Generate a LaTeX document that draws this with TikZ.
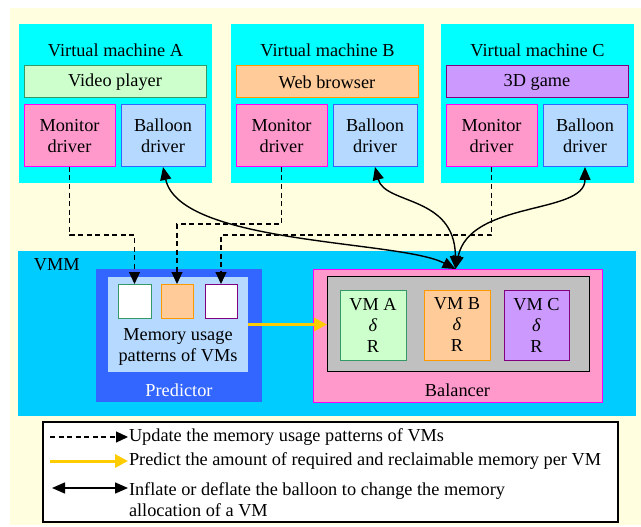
\documentclass[tikz,border=0pt]{standalone}
\usepackage{fontspec}
\setmainfont{Liberation Serif}
\usetikzlibrary{arrows.meta}

\definecolor{paper}{RGB}{255,255,224}
\definecolor{vmcyan}{RGB}{0,255,255}
\definecolor{vmmblue}{RGB}{0,204,255}
\definecolor{predblue}{RGB}{51,102,255}
\definecolor{paleblue}{RGB}{181,217,255}
\definecolor{palegreen}{RGB}{204,255,204}
\definecolor{greenedge}{RGB}{51,153,102}
\definecolor{paleorange}{RGB}{255,204,153}
\definecolor{orangeedge}{RGB}{255,153,0}
\definecolor{palepurple}{RGB}{204,153,255}
\definecolor{purpleedge}{RGB}{128,0,128}
\definecolor{monpink}{RGB}{255,153,204}
\definecolor{monedge}{RGB}{255,0,255}
\definecolor{balledge}{RGB}{51,102,255}
\definecolor{balgray}{RGB}{192,192,192}
\definecolor{gold}{RGB}{255,204,0}

\tikzset{
  area/.style={rectangle, inner sep=0pt, outer sep=0pt, draw=none},
  box/.style={rectangle, inner sep=0pt, outer sep=0pt, line width=1pt, align=center,
    font=\rmfamily\fontsize{18.3}{21}\selectfont},
  txt/.style={inner sep=0pt, outer sep=0pt, align=center,
    font=\rmfamily\fontsize{18.3}{21}\selectfont},
  update/.style={draw=black, line width=1.2pt, dash pattern=on 5pt off 3.5pt,
    -{Triangle[length=12pt,width=11pt]}},
  predict/.style={draw=gold, line width=3pt, -{Triangle[length=13pt,width=13pt]}},
  inflate/.style={draw=black, line width=1.4pt,
    {Triangle[length=13pt,width=11pt]}-{Triangle[length=13pt,width=11pt]}},
}

\begin{document}
\begin{tikzpicture}[x=1pt, y={(0pt,-1pt)}]
  \useasboundingbox (0,0) rectangle (641,527);
  \fill[white] (0,0) rectangle (641,527);
  \fill[paper] (10,8) rectangle (641,525);

  % three virtual machines
  \foreach \dx/\id/\app/\fillc/\edgec in {
      0/A/Video player/palegreen/greenedge,
      212/B/Web browser/paleorange/orangeedge,
      422/C/3D game/palepurple/purpleedge} {
    \node[area, fill=vmcyan, minimum width=193pt, minimum height=159pt]
      (vm\id) at (115.5+\dx,103.5) {};
    \node[txt] (title\id) at (115.5+\dx,50) {Virtual machine \id};
    \node[box, fill=\fillc, draw=\edgec, minimum width=182pt, minimum height=32pt]
      (app\id) at (115+\dx,82) {\app};
    \node[box, fill=monpink, draw=monedge, minimum width=91pt, minimum height=62pt]
      (mon\id) at (69.5+\dx,136) {Monitor\\driver};
    \node[box, fill=paleblue, draw=balledge, minimum width=84pt, minimum height=62pt]
      (bal\id) at (163+\dx,136) {Balloon\\driver};
  }

  % hypervisor
  \node[area, fill=vmmblue, minimum width=618pt, minimum height=165pt]
    (vmm) at (327,333.5) {};
  \node[txt, anchor=west] (vmmlabel) at (34,265) {VMM};

  % predictor
  \node[area, fill=predblue, minimum width=166pt, minimum height=133pt]
    (pred) at (179,335.5) {};
  \node[area, fill=paleblue, minimum width=140pt, minimum height=95pt]
    (patterns) at (178,324.5) {};
  \node[box, fill=white, draw=greenedge, minimum width=33pt, minimum height=34pt]
    (p1) at (134.5,301) {};
  \node[box, fill=paleorange, draw=orangeedge, minimum width=32pt, minimum height=34pt]
    (p2) at (177,301) {};
  \node[box, fill=white, draw=purpleedge, minimum width=32pt, minimum height=34pt]
    (p3) at (221,301) {};
  \node[txt] (patternstext) at (178,347) {Memory usage\\patterns of VMs};
  \node[txt, text=white] (predlabel) at (179,390) {Predictor};

  % balancer
  \node[box, fill=monpink, draw=monedge, minimum width=289pt, minimum height=133pt]
    (balancer) at (457.5,335.5) {};
  \node[box, fill=balgray, draw=black, minimum width=262pt, minimum height=95pt]
    (table) at (458,323.5) {};
  \node[box, fill=palegreen, draw=greenedge, minimum width=66pt, minimum height=70pt]
    (ta) at (373,325) {VM A\\\textit{δ}\\R};
  \node[box, fill=paleorange, draw=orangeedge, minimum width=66pt, minimum height=70pt]
    (tb) at (457,325) {VM B\\\textit{δ}\\R};
  \node[box, fill=palepurple, draw=purpleedge, minimum width=65pt, minimum height=70pt]
    (tc) at (536.5,325) {VM C\\\textit{δ}\\R};
  \node[txt] (ballabel) at (457.5,390) {Balancer};

  % monitor drivers feed the usage patterns
  \draw[update] (monA.south) -- ++(0,68) -| (p1.north);
  \draw[update] (monB.south) -- ++(0,57) -| (p2.north);
  \draw[update] (monC.south) -- ++(0,68) -| (p3.north);

  % predictor feeds the balancer
  \draw[predict] (patterns.east) -- (patterns.east -| table.west);

  % balancer drives the balloon drivers
  \coordinate (hub) at ([xshift=-2pt]balancer.north);
  \draw[inflate] (balA.south) .. controls (180,245) and (400,240) .. (hub);
  \draw[inflate] (balB.south) .. controls (385,205) and (455,195) .. (hub);
  \draw[inflate] (balC.south) .. controls (585,215) and (470,200) .. (hub);

  % legend
  \node[box, fill=white, draw=black, line width=1.2pt,
    minimum width=575pt, minimum height=100pt] (legend) at (330.5,472) {};
  \coordinate (u1) at (50,437);  \coordinate (u2) at (128,437);
  \coordinate (y1) at (50,461);  \coordinate (y2) at (128,461);
  \coordinate (i1) at (52,488);  \coordinate (i2) at (128,488);
  \draw[update] (u1) -- (u2);
  \draw[predict] (y1) -- (y2);
  \draw[inflate] (i1) -- (i2);
  \node[txt, anchor=west] (legupdate) at (129,437)
    {Update the memory usage patterns of VMs};
  \node[txt, anchor=west] (legpredict) at (129,461)
    {Predict the amount of required and reclaimable memory per VM};
  \node[txt, anchor=west, align=left] (leginflate) at (129,499.5)
    {Inflate or deflate the balloon to change the memory\\allocation of a VM};
\end{tikzpicture}
\end{document}
